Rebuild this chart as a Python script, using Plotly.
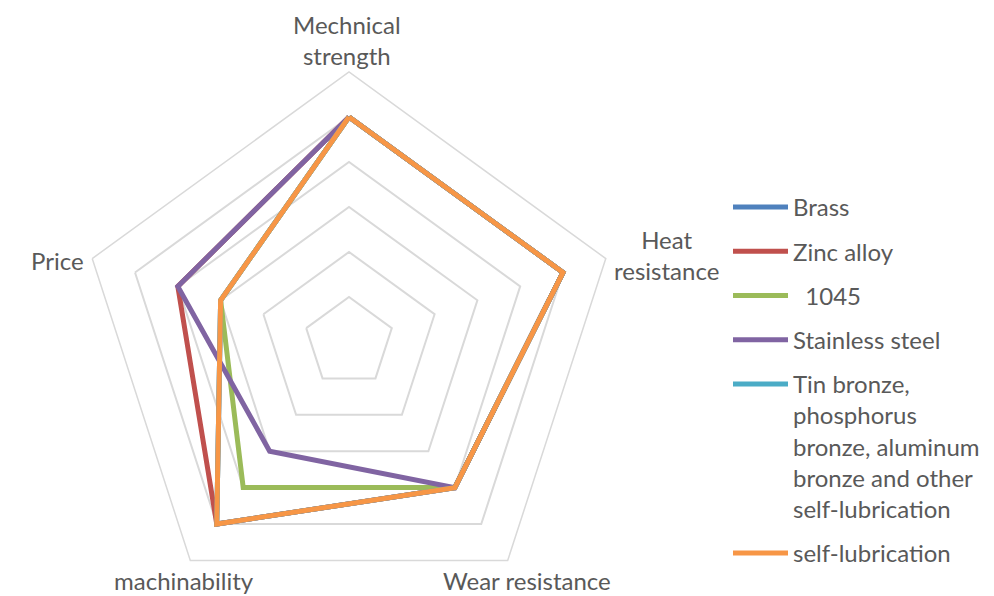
import plotly.graph_objects as go

# ---- data ----
categories = ["Mechnical strength", "Heat resistance", "Wear resistance", "machinability", "Price"]
series_names = [
    "Brass",
    "Zinc alloy",
    "\u00a0\u00a01045",
    "Stainless steel",
    "Tin bronze,<br>phosphorus<br>bronze, aluminum<br>bronze and other<br>self-lubrication",
    "self-lubrication",
]
brass = [5, 5, 4, 5, 3]
zinc_alloy = [5, 5, 4, 5, 4]
steel_1045 = [5, 5, 4, 4, 3]
stainless_steel = [5, 5, 4, 3, 4]
tin_bronze = [5, 5, 4, 5, 3]
self_lubrication = [5, 5, 4, 5, 3]
series_values = [brass, zinc_alloy, steel_1045, stainless_steel, tin_bronze, self_lubrication]
colors = ["#4F81BD", "#C0504D", "#9BBB59", "#8064A2", "#4BACC6", "#F79646"]

# ---- layout constants ----
W, H = 994, 612
T, B, L, R = 72, 0, 0, 0
FONT = dict(family="Lato", size=24, color="#595959")

fig = go.Figure()
for i, (name, vals) in enumerate(zip(series_names, series_values)):
    fig.add_trace(go.Scatterpolar(
        r=vals + vals[:1],
        theta=categories + categories[:1],
        mode="lines",
        name=name,
        legendgroup=f"g{i}",
        line=dict(color=colors[i], width=5),
        hoverinfo="skip",
    ))

def px_x(px):
    return (px - L) / (W - L - R)

def px_y(py):
    return (H - B - py) / (H - T - B)

label_pos = [(347, 40), (666, 255), (527, 580), (184, 580), (57, 260)]
label_text = ["Mechnical<br>strength", "Heat<br>resistance", categories[2], categories[3], categories[4]]
annotations = []
for txt, (x, y) in zip(label_text, label_pos):
    annotations.append(dict(
        x=px_x(x), y=px_y(y), xref="paper", yref="paper", text=txt,
        showarrow=False, xanchor="center", yanchor="middle", font=FONT, align="center",
    ))

cx, rad = 349, 270
fig.update_layout(
    width=W, height=H,
    margin=dict(t=T, b=B, l=L, r=R),
    paper_bgcolor="white",
    plot_bgcolor="white",
    font=FONT,
    polar=dict(
        domain=dict(x=[px_x(cx - rad), px_x(cx + rad)], y=[0, 1]),
        bgcolor="white",
        gridshape="linear",
        radialaxis=dict(range=[0, 6], tick0=0, dtick=1, showticklabels=False, ticks="",
                        showline=False, gridcolor="#D9D9D9", gridwidth=1.5),
        angularaxis=dict(rotation=90, direction="clockwise", showticklabels=False, ticks="",
                         showgrid=False, showline=True, linecolor="#D9D9D9", linewidth=1.5),
    ),
    showlegend=True,
    legend=dict(x=px_x(728), y=px_y(185), xanchor="left", yanchor="top", valign="top",
                tracegroupgap=10, itemwidth=55, font=FONT, bgcolor="rgba(0,0,0,0)"),
    annotations=annotations,
)

fig.write_html(
    "out.html",
    config={"displayModeBar": False},
    post_script="document.body.style.margin='0';document.body.style.overflow='hidden';"
                "document.documentElement.style.overflow='hidden';",
)
